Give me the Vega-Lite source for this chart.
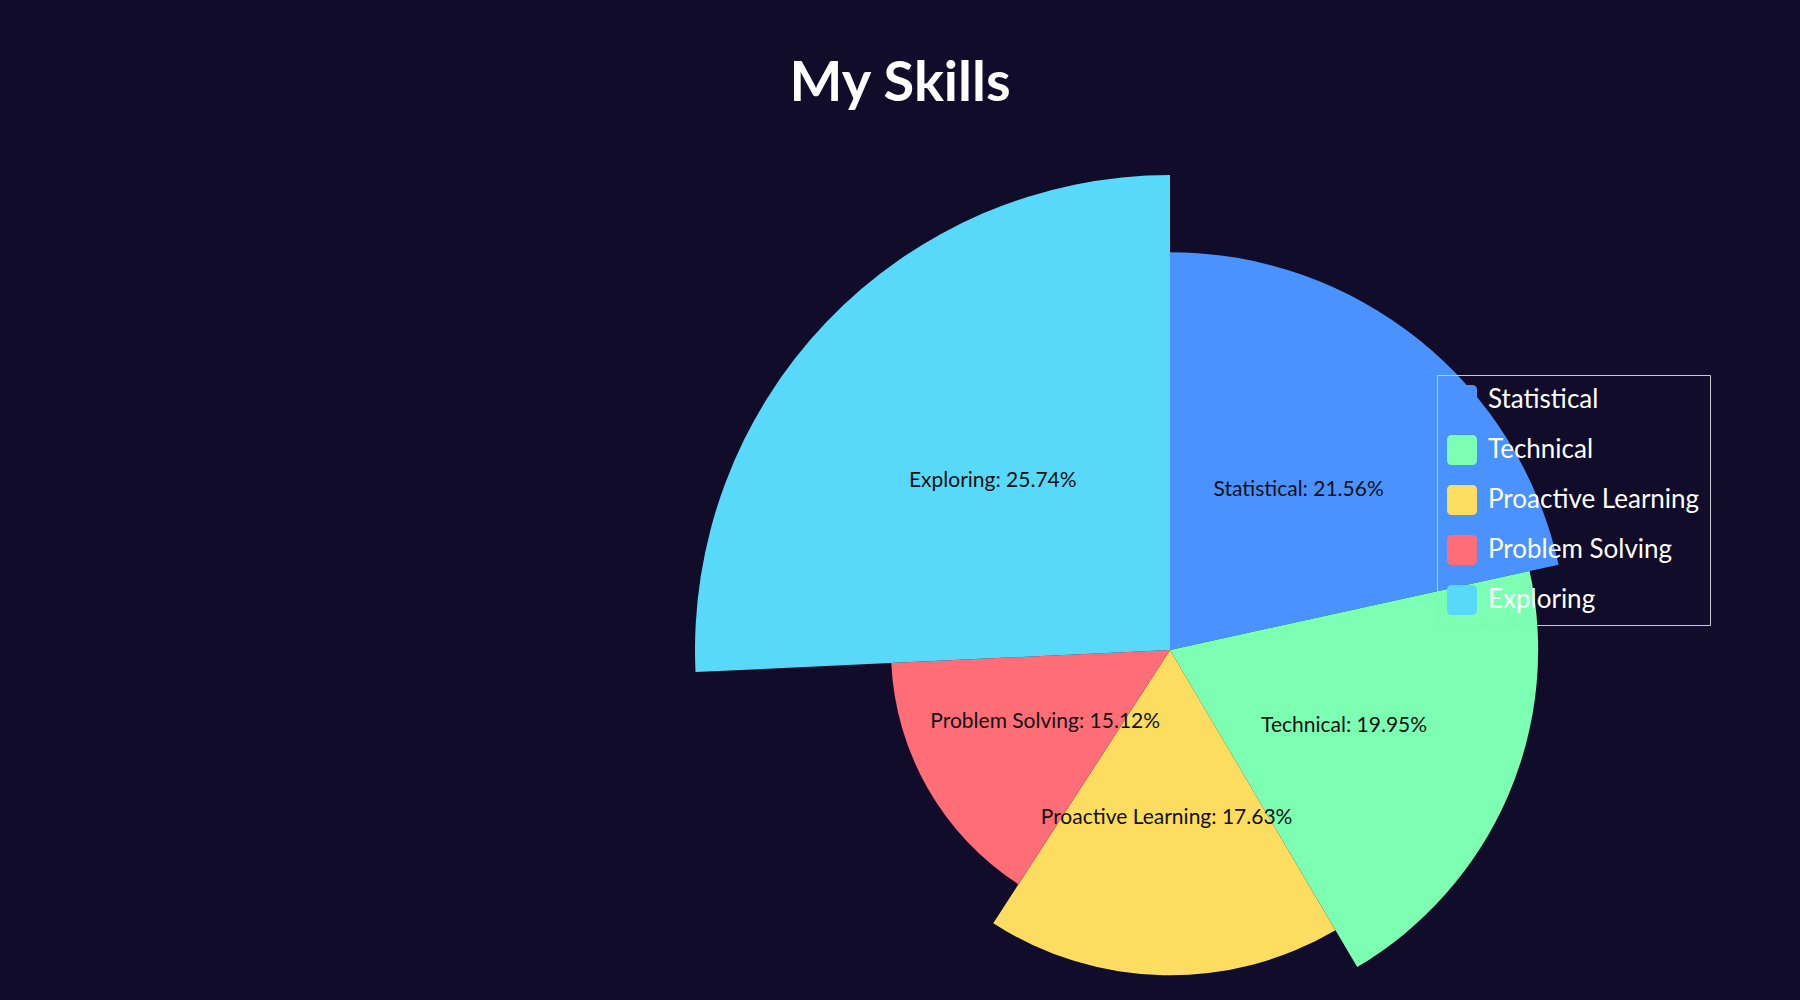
{
  "$schema": "https://vega.github.io/schema/vega-lite/v6.json",
  "autosize": {"type": "none"},
  "width": 1260,
  "height": 700,
  "padding": {"left": 540, "top": 300, "right": 0, "bottom": 0},
  "background": "#100c2a",
  "title": {
    "text": "My Skills",
    "font": "Lato",
    "fontSize": 56,
    "fontWeight": "bold",
    "color": "#ffffff",
    "anchor": "middle",
    "dx": -270,
    "offset": 62
  },
  "data": {
    "values": [
      {"skill": "Statistical", "value": 21.56, "idx": 1},
      {"skill": "Technical", "value": 19.95, "idx": 2},
      {"skill": "Proactive Learning", "value": 17.63, "idx": 3},
      {"skill": "Problem Solving", "value": 15.12, "idx": 4},
      {"skill": "Exploring", "value": 25.74, "idx": 5}
    ]
  },
  "transform": [
    {"calculate": "datum.skill + ': ' + format(datum.value, '.2f') + '%'", "as": "label"}
  ],
  "encoding": {
    "theta": {"field": "value", "type": "quantitative", "stack": true},
    "order": {"field": "idx", "type": "quantitative"}
  },
  "layer": [
    {
      "mark": {"type": "arc"},
      "encoding": {
        "radius": {
          "field": "value",
          "type": "quantitative",
          "scale": {"type": "linear", "zero": true, "domain": [0, 25.74], "range": [0, 475]}
        },
        "color": {
          "field": "skill",
          "type": "nominal",
          "scale": {
            "domain": ["Statistical", "Technical", "Proactive Learning", "Problem Solving", "Exploring"],
            "range": ["#4992ff", "#7cffb2", "#fddd60", "#ff6e76", "#58d9f9"]
          },
          "legend": {
            "title": null,
            "orient": "none",
            "legendX": 897,
            "legendY": 75,
            "padding": 10,
            "strokeColor": "#cccccc",
            "symbolType": "M -0.7,-1 H 0.7 A 0.3 0.3 0 0 1 1 -0.7 V 0.7 A 0.3 0.3 0 0 1 0.7 1 H -0.7 A 0.3 0.3 0 0 1 -1 0.7 V -0.7 A 0.3 0.3 0 0 1 -0.7 -1 Z",
            "symbolSize": 900,
            "symbolStrokeWidth": 0,
            "symbolOpacity": 1,
            "labelColor": "#ffffff",
            "labelFont": "Lato",
            "labelFontSize": 26,
            "labelOffset": 11,
            "rowPadding": 20,
            "labelLimit": 400
          }
        }
      }
    },
    {
      "mark": {"type": "text", "font": "Lato", "fontSize": 21, "color": "#111111", "align": "center", "baseline": "middle"},
      "encoding": {
        "radius": {
          "field": "value",
          "type": "quantitative",
          "scale": {"type": "linear", "zero": true, "domain": [0, 25.74], "range": [0, 245]}
        },
        "text": {"field": "label", "type": "nominal"}
      }
    }
  ],
  "resolve": {"scale": {"radius": "independent"}}
}
